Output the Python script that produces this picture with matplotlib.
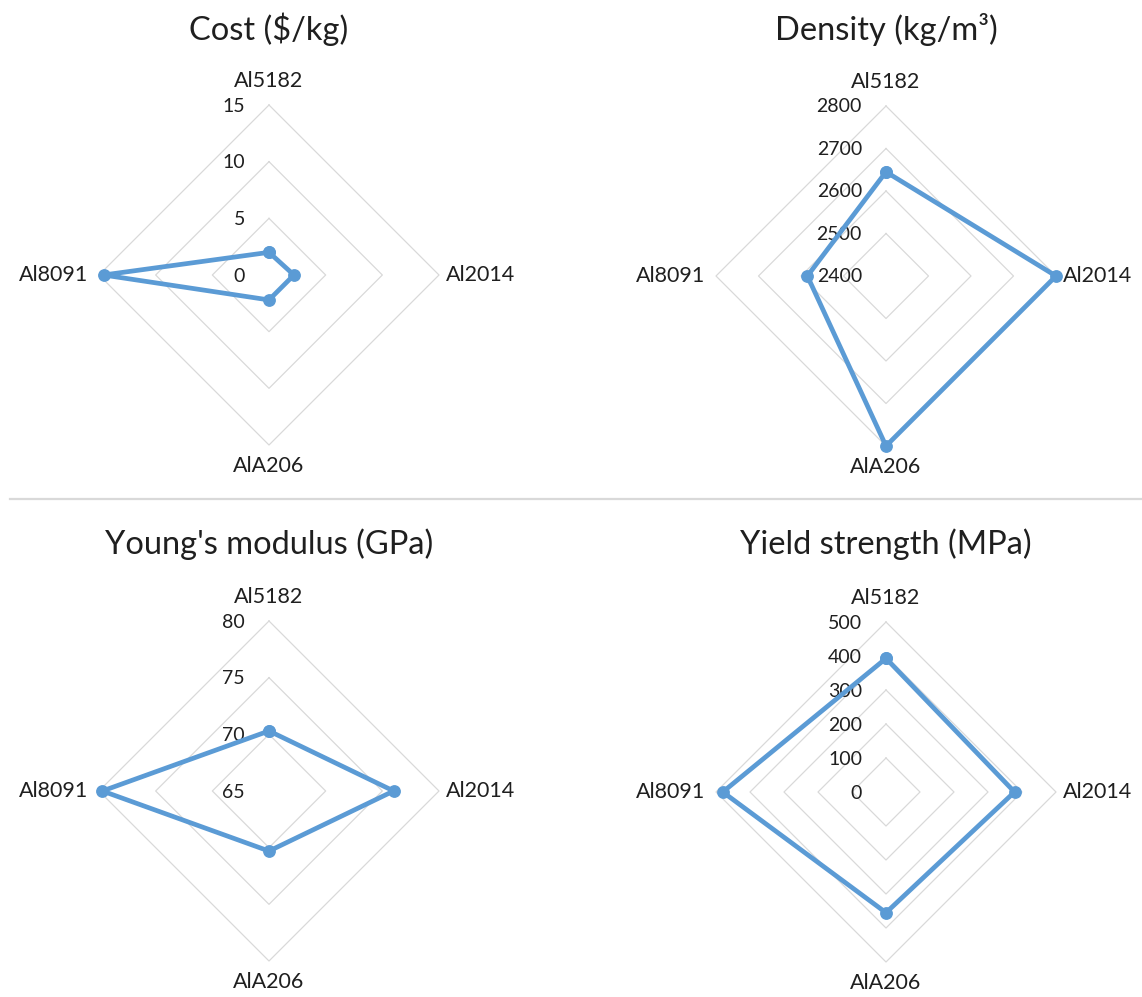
import numpy as np
import matplotlib
matplotlib.use("Agg")
import matplotlib.pyplot as plt
from matplotlib.transforms import ScaledTranslation
from matplotlib.lines import Line2D

plt.rcParams['font.family'] = ['Lato', 'DejaVu Sans']

# ---- data -------------------------------------------------------------
categories = ['Al5182', 'Al2014', 'AlA206', 'Al8091']

cost = [2.0, 2.2, 2.2, 14.6]                 # $/kg
density = [2645, 2800, 2800, 2585]           # kg/m3
youngs_modulus = [70.3, 76.0, 70.3, 79.7]    # GPa
yield_strength = [393, 378, 355, 480]        # MPa

titles = ['Cost ($/kg)', 'Density (kg/m³)',
          "Young's modulus (GPa)", 'Yield strength (MPa)']

cost_ticks = [0, 5, 10, 15]
density_ticks = [2400, 2500, 2600, 2700, 2800]
youngs_ticks = [65, 70, 75, 80]
yield_ticks = [0, 100, 200, 300, 400, 500]

# ---- style --------------------------------------------------------------
W, H, DPI = 1142, 997, 100
LINE_BLUE = '#5B9BD5'
GRID_GRAY = '#D9D9D9'
TEXT = '#1F1F1F'

fig = plt.figure(figsize=(W / DPI, H / DPI), dpi=DPI)
fig.patch.set_facecolor('white')

# panel centres (pixels from top-left), radius of the outer ring in pixels
centres = [(269, 275), (886, 276), (269, 791), (886, 792)]
RADIUS = 170
title_y = [29, 29, 544, 544]

series = [cost, density, youngs_modulus, yield_strength]
tick_sets = [cost_ticks, density_ticks, youngs_ticks, yield_ticks]

# clockwise from the top
theta = np.deg2rad([0, 90, 180, 270])
theta_closed = np.append(theta, theta[0])


def px(dx, dy):
    return ScaledTranslation(dx / DPI, dy / DPI, fig.dpi_scale_trans)


for (cx, cy), vals, ticks, title, ty in zip(centres, series, tick_sets,
                                            titles, title_y):
    rect = [(cx - RADIUS) / W, 1 - (cy + RADIUS) / H,
            2 * RADIUS / W, 2 * RADIUS / H]
    ax = fig.add_axes(rect, projection='polar')
    ax.set_theta_zero_location('N')
    ax.set_theta_direction(-1)
    ax.set_ylim(ticks[0], ticks[-1])
    ax.grid(False)
    ax.set_xticks([])
    ax.set_yticks([])
    ax.spines['polar'].set_visible(False)
    ax.patch.set_alpha(0)

    # diamond-shaped rings
    for t in ticks[1:]:
        ax.plot(theta_closed, [t] * 5, color=GRID_GRAY, lw=0.9,
                zorder=1, clip_on=False)

    # the series
    v = np.append(vals, vals[0])
    ax.plot(theta_closed, v, color=LINE_BLUE, lw=3.4, marker='o',
            markersize=8.2, solid_joinstyle='round', zorder=3,
            clip_on=False)

    # radial value labels along the top spoke
    for t in ticks:
        ax.text(0, t, f'{t}', ha='right', va='center', fontsize=14,
                color=TEXT, transform=ax.transData + px(-24, -1),
                zorder=2)

    # category labels around the outer ring
    rmax = ticks[-1]
    offsets = [(0, 24, 'center', 'center'), (7, 0, 'left', 'center'),
               (0, -21, 'center', 'center'), (-11, 0, 'right', 'center')]
    for ang, name, (dx, dy, ha, va) in zip(theta, categories, offsets):
        ax.text(ang, rmax, name, ha=ha, va=va, fontsize=15.5, color=TEXT,
                transform=ax.transData + px(dx, dy))

    fig.text(cx / W, 1 - ty / H, title, ha='center', va='center',
             fontsize=23.5, color=TEXT)

# light separator between the two rows
fig.add_artist(Line2D([10 / W, 1.0], [1 - 499 / H, 1 - 499 / H],
                      color=GRID_GRAY, lw=1.6, transform=fig.transFigure))

fig.savefig('out.png', dpi=DPI, facecolor='white')
